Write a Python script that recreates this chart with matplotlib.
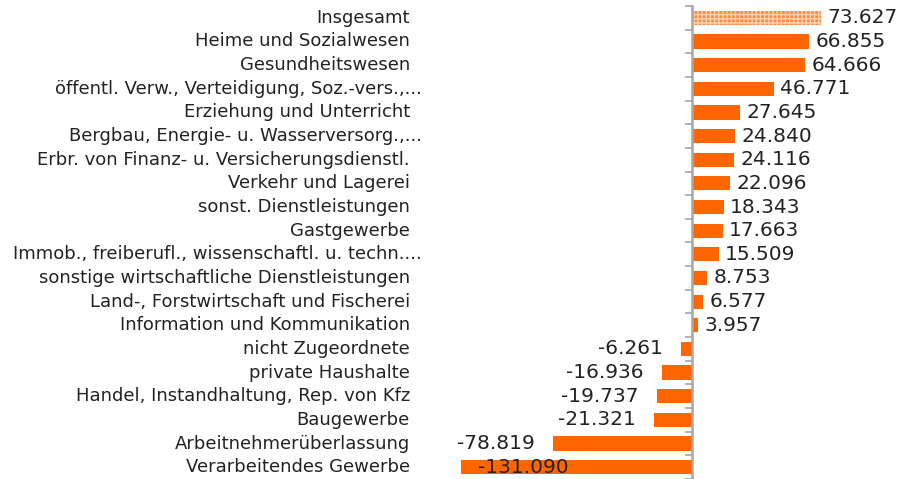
import matplotlib.pyplot as plt
import matplotlib.transforms as mtransforms

# Data (top to bottom)
categories = [
    "Insgesamt",
    "Heime und Sozialwesen",
    "Gesundheitswesen",
    "öffentl. Verw., Verteidigung, Soz.-vers.,...",
    "Erziehung und Unterricht",
    "Bergbau, Energie- u. Wasserversorg.,...",
    "Erbr. von Finanz- u. Versicherungsdienstl.",
    "Verkehr und Lagerei",
    "sonst. Dienstleistungen",
    "Gastgewerbe",
    "Immob., freiberufl., wissenschaftl. u. techn....",
    "sonstige wirtschaftliche Dienstleistungen",
    "Land-, Forstwirtschaft und Fischerei",
    "Information und Kommunikation",
    "nicht Zugeordnete",
    "private Haushalte",
    "Handel, Instandhaltung, Rep. von Kfz",
    "Baugewerbe",
    "Arbeitnehmerüberlassung",
    "Verarbeitendes Gewerbe",
]
values = [73.627, 66.855, 64.666, 46.771, 27.645, 24.840, 24.116, 22.096,
          18.343, 17.663, 15.509, 8.753, 6.577, 3.957, -6.261, -16.936,
          -19.737, -21.321, -78.819, -131.090]
value_labels = ["73.627", "66.855", "64.666", "46.771", "27.645", "24.840",
                "24.116", "22.096", "18.343", "17.663", "15.509", "8.753",
                "6.577", "3.957", "-6.261", "-16.936", "-19.737", "-21.321",
                "-78.819", "-131.090"]

orange = "#ff6600"
grey = "#a6a6a6"
plt.rcParams['font.family'] = ['DejaVu Sans']
plt.rcParams['hatch.linewidth'] = 1.0

fig = plt.figure(figsize=(9.01, 4.79), dpi=100)
ax = fig.add_axes([418 / 901, 0, (901 - 418) / 901, 473 / 479])

n = len(categories)
ypos = list(range(n))
bars = ax.barh(ypos, values, height=0.6, color=orange, linewidth=0)
bars[0].set_facecolor('#ff8a3d')
bars[0].set_hatch('++++')
bars[0].set_edgecolor('#ffd2b3')

ax.set_ylim(n - 0.5, -0.5)
ax.set_xlim(-155.8, 119.3)

for s in ['top', 'right', 'bottom']:
    ax.spines[s].set_visible(False)
ax.spines['left'].set_position(('data', 0))
ax.spines['left'].set_color(grey)
ax.spines['left'].set_linewidth(1.8)
ax.set_xticks([])
ax.set_yticks([i - 0.5 for i in range(n + 1)])
ax.set_yticklabels([])
ax.tick_params(axis='y', length=5, width=1.2, color=grey, direction='out')

trans = mtransforms.blended_transform_factory(ax.transAxes, ax.transData)
for i, c in enumerate(categories):
    # truncated labels overhang a little further to the right
    dx = 12 if c.endswith('...') else 0
    ax.annotate(c, (-0.017, i), xycoords=trans, xytext=(dx * 0.72, 0),
                textcoords='offset points', ha='right', va='center',
                fontsize=13, color='#222222')

for i, (v, lab) in enumerate(zip(values, value_labels)):
    if v >= 0:
        ax.annotate(lab, (v, i), xytext=(4.5, 0), textcoords='offset points',
                    ha='left', va='center', fontsize=14.5, color='#222222')
    elif v < -100:
        ax.annotate(lab, (v, i), xytext=(12, 0), textcoords='offset points',
                    ha='left', va='center', fontsize=14.5, color='#222222')
    else:
        ax.annotate(lab, (v, i), xytext=(-13, 0), textcoords='offset points',
                    ha='right', va='center', fontsize=14.5, color='#222222')

fig.savefig('out.png', dpi=100)
